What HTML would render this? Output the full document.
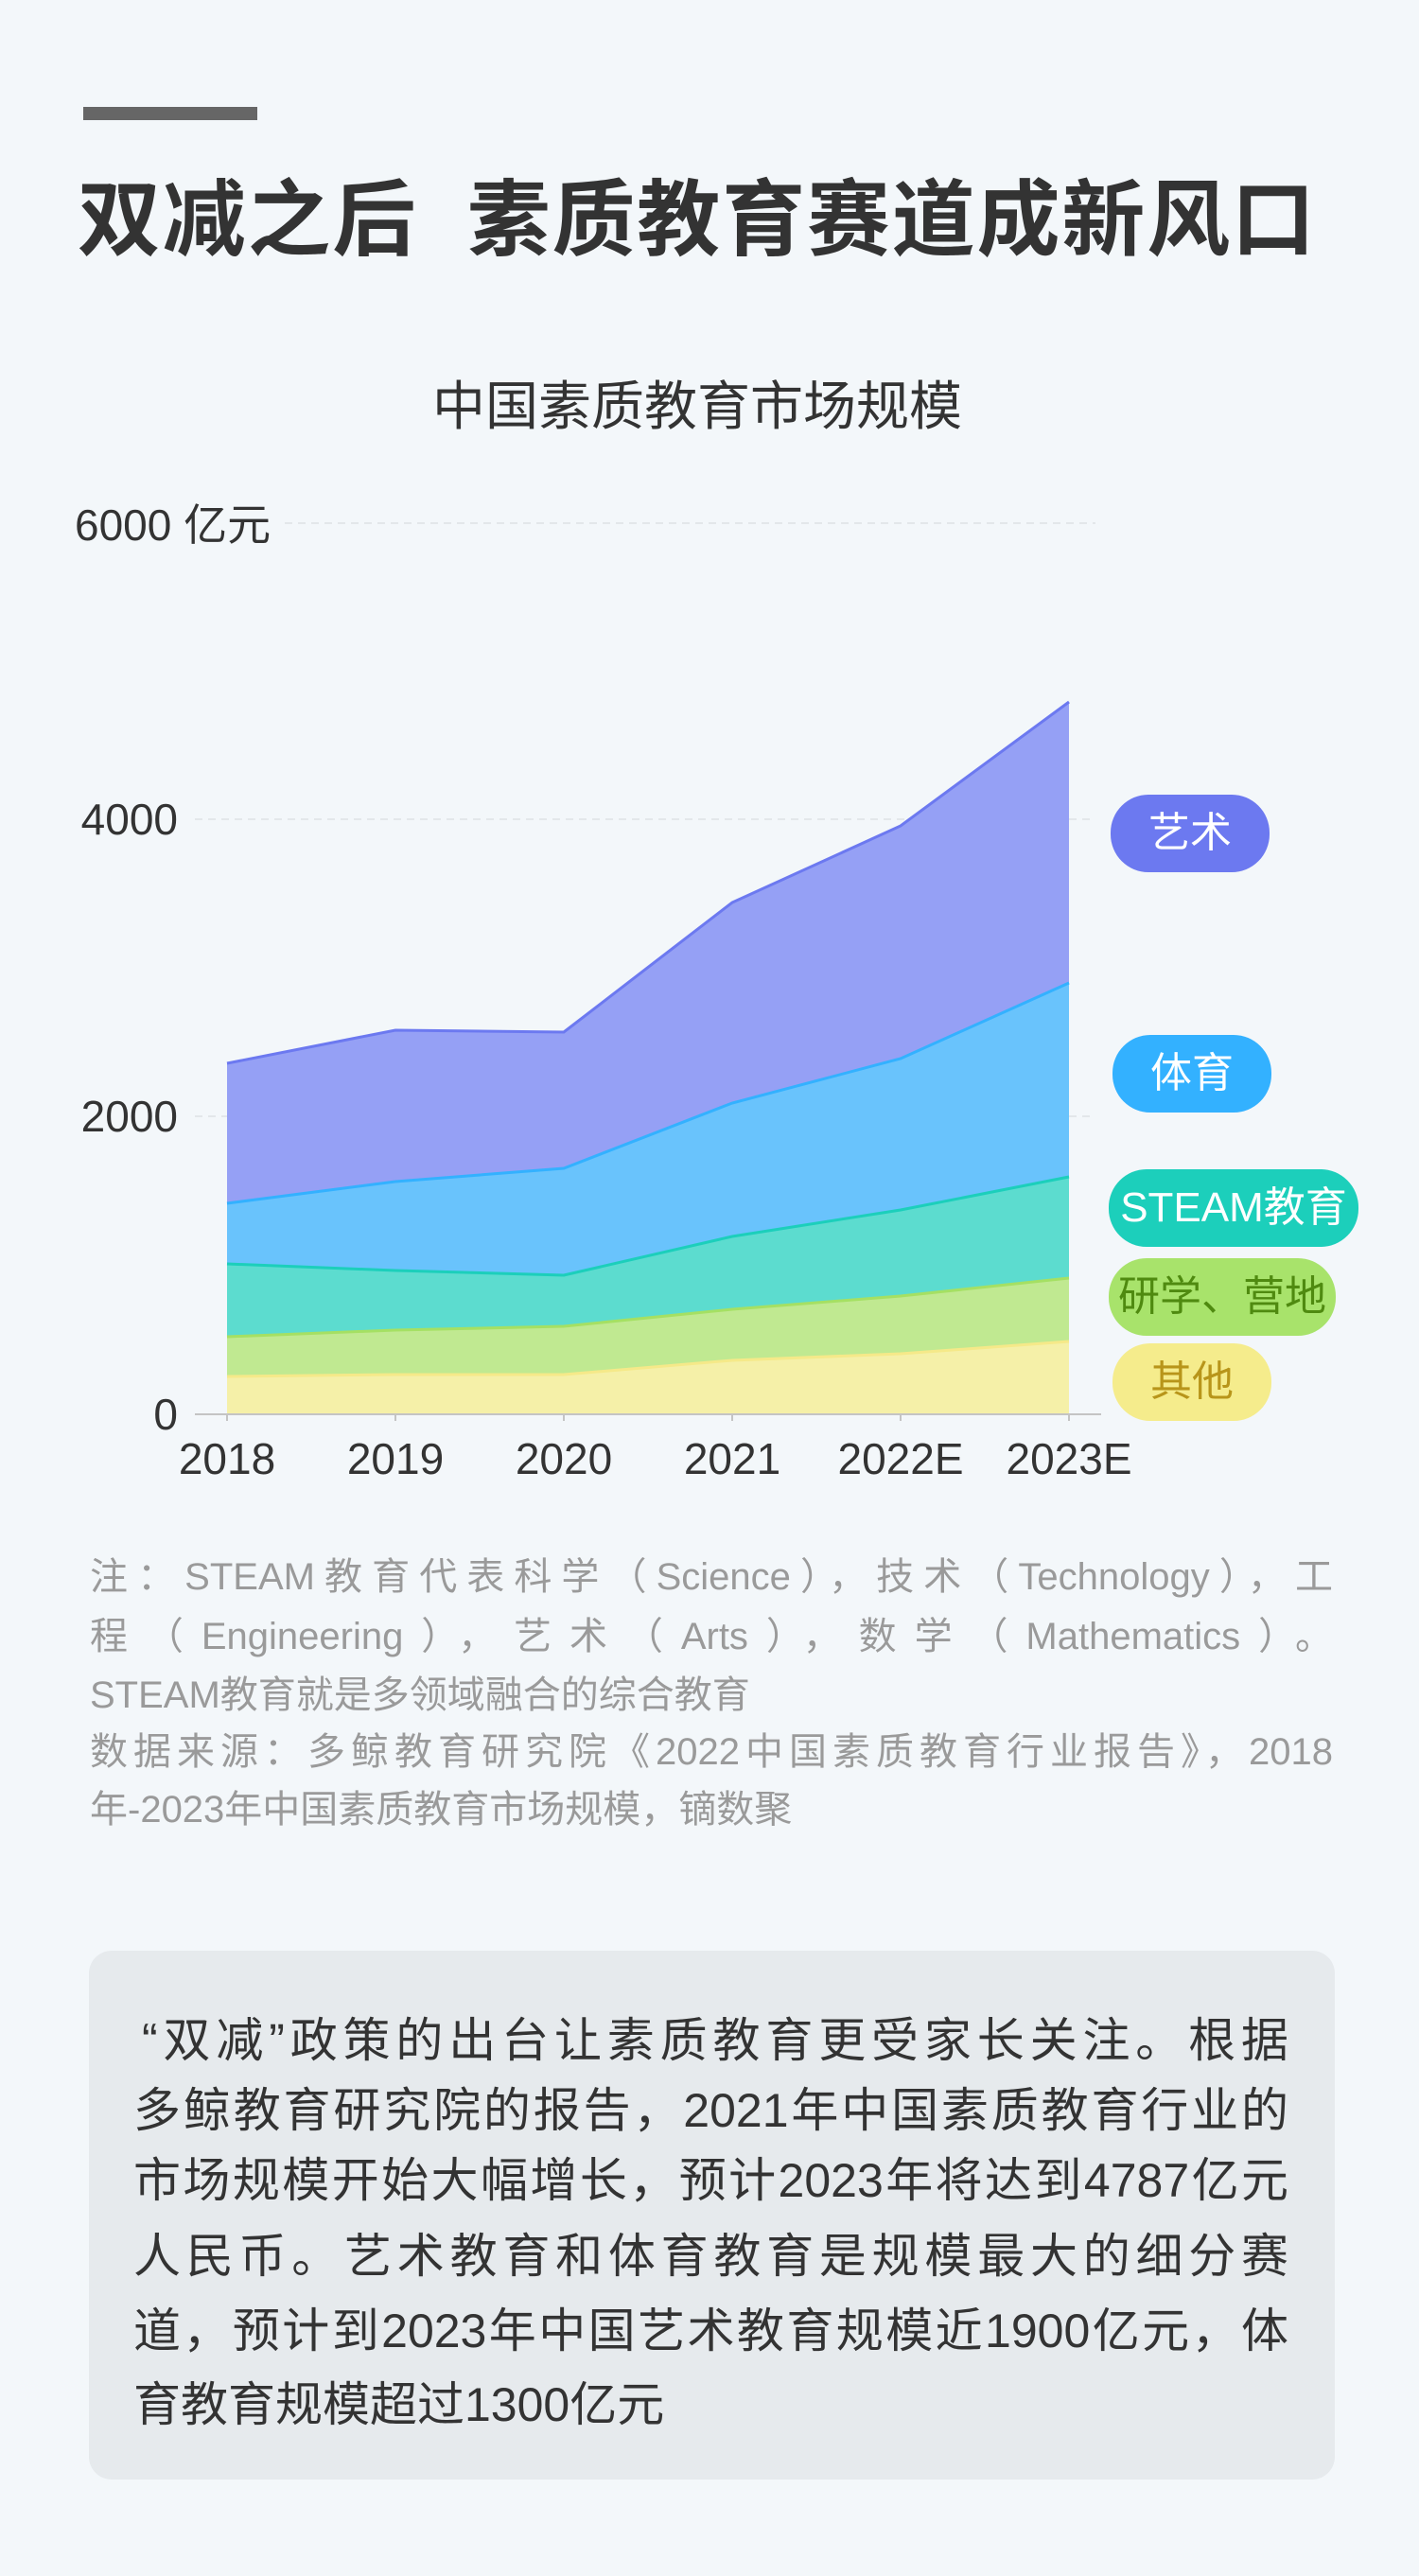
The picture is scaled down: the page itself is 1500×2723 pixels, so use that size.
<!DOCTYPE html>
<html><head><meta charset="utf-8"><style>
body{margin:0;width:1500px;height:2723px;background:#f3f7fa;position:relative;overflow:hidden;font-family:"Liberation Sans","Noto Sans CJK SC",sans-serif;}
.a{position:absolute;}
.pill{position:absolute;border-radius:40px;text-align:center;font-size:44px;line-height:82px;height:82px;white-space:nowrap;}
.n{position:absolute;left:95px;width:1314px;font-size:40px;color:#9a9a9a;line-height:50px;white-space:nowrap;}
.j{text-align:justify;text-align-last:justify;}
.p{position:absolute;left:141px;width:1221px;font-size:50px;color:#333;line-height:60px;white-space:nowrap;}
</style></head><body>
<div class="a" style="left:88px;top:113px;width:184px;height:14px;background:#666;"></div>
<div class="a" style="left:82px;top:178px;font-size:88px;font-weight:bold;color:#333;line-height:110px;white-space:nowrap;letter-spacing:1.8px;">双减之后&nbsp;&nbsp;素质教育赛道成新风口</div>
<div class="a" style="left:437px;top:395px;width:600px;text-align:center;font-size:56px;color:#333;line-height:70px;">中国素质教育市场规模</div>
<svg class="a" style="left:0;top:0" width="1500" height="1600">
<g stroke="#e3e7ea" stroke-width="2" stroke-dasharray="8,6">
<line x1="301" y1="553" x2="1158" y2="553"/><line x1="206" y1="866" x2="1158" y2="866"/><line x1="206" y1="1180" x2="1158" y2="1180"/></g>
<polygon fill="#95a0f5" points="240,1124 418,1089 596,1091 774,954 952,873 1130,742 1130,1039 952,1119 774,1166 596,1235 418,1249 240,1272"/>
<polyline fill="none" stroke="#6c79f0" stroke-width="3" points="240,1124 418,1089 596,1091 774,954 952,873 1130,742"/>
<polygon fill="#69c3fc" points="240,1272 418,1249 596,1235 774,1166 952,1119 1130,1039 1130,1244 952,1279 774,1307 596,1348 418,1343 240,1336"/>
<polyline fill="none" stroke="#33b1ff" stroke-width="3" points="240,1272 418,1249 596,1235 774,1166 952,1119 1130,1039"/>
<polygon fill="#5cdccf" points="240,1336 418,1343 596,1348 774,1307 952,1279 1130,1244 1130,1351 952,1370 774,1384 596,1402 418,1406 240,1413"/>
<polyline fill="none" stroke="#1ccfbb" stroke-width="3" points="240,1336 418,1343 596,1348 774,1307 952,1279 1130,1244"/>
<polygon fill="#c0e991" points="240,1413 418,1406 596,1402 774,1384 952,1370 1130,1351 1130,1418 952,1431 774,1438 596,1453 418,1453 240,1455"/>
<polyline fill="none" stroke="#a5e063" stroke-width="3" points="240,1413 418,1406 596,1402 774,1384 952,1370 1130,1351"/>
<polygon fill="#f5f0a8" points="240,1455 418,1453 596,1453 774,1438 952,1431 1130,1418 1130,1495 240,1495"/>
<polyline fill="none" stroke="#f5e989" stroke-width="3" points="240,1455 418,1453 596,1453 774,1438 952,1431 1130,1418"/>
<line x1="206" y1="1495" x2="1164" y2="1495" stroke="#c4c4c4" stroke-width="2"/>
<g stroke="#c4c4c4" stroke-width="2"><line x1="240" y1="1495" x2="240" y2="1502"/><line x1="418" y1="1495" x2="418" y2="1502"/><line x1="596" y1="1495" x2="596" y2="1502"/><line x1="774" y1="1495" x2="774" y2="1502"/><line x1="952" y1="1495" x2="952" y2="1502"/><line x1="1130" y1="1495" x2="1130" y2="1502"/></g>
<g font-family="Liberation Sans, Noto Sans CJK SC, sans-serif" font-size="46" fill="#333">
<text x="79" y="571">6000 亿元</text>
<text x="188" y="882" text-anchor="end">4000</text>
<text x="188" y="1196" text-anchor="end">2000</text>
<text x="188" y="1511" text-anchor="end">0</text>
<g text-anchor="middle"><text x="240" y="1558">2018</text><text x="418" y="1558">2019</text><text x="596" y="1558">2020</text><text x="774" y="1558">2021</text><text x="952" y="1558">2022E</text><text x="1130" y="1558">2023E</text></g>
</g>
</svg>
<div class="pill" style="left:1174px;top:840px;width:168px;background:#6c79f0;color:#fff;">艺术</div>
<div class="pill" style="left:1176px;top:1094px;width:168px;background:#33b1ff;color:#fff;">体育</div>
<div class="pill" style="left:1172px;top:1236px;width:264px;background:#1ccfbb;color:#fff;">STEAM教育</div>
<div class="pill" style="left:1172px;top:1330px;width:240px;background:#a8e36b;color:#4f8a10;">研学、营地</div>
<div class="pill" style="left:1176px;top:1420px;width:168px;background:#f5ec8c;color:#b8951a;">其他</div>
<div class="n j" style="top:1642px;">注：STEAM教育代表科学（Science），技术（Technology），工</div>
<div class="n j" style="top:1705px;">程（Engineering），艺术（Arts），数学（Mathematics）。</div>
<div class="n" style="top:1767px;">STEAM教育就是多领域融合的综合教育</div>
<div class="n j" style="top:1827px;">数据来源：多鲸教育研究院《2022中国素质教育行业报告》，2018</div>
<div class="n" style="top:1888px;">年-2023年中国素质教育市场规模，镝数聚</div>
<div class="a" style="left:94px;top:2062px;width:1317px;height:559px;background:#e6eaed;border-radius:24px;"></div>
<div class="p j" style="top:2127px;left:150px;width:1212px;">“双减”政策的出台让素质教育更受家长关注。根据</div>
<div class="p j" style="top:2201px;">多鲸教育研究院的报告，2021年中国素质教育行业的</div>
<div class="p j" style="top:2275px;">市场规模开始大幅增长，预计2023年将达到4787亿元</div>
<div class="p j" style="top:2355px;">人民币。艺术教育和体育教育是规模最大的细分赛</div>
<div class="p j" style="top:2434px;">道，预计到2023年中国艺术教育规模近1900亿元，体</div>
<div class="p" style="top:2512px;">育教育规模超过1300亿元</div>
</body></html>
